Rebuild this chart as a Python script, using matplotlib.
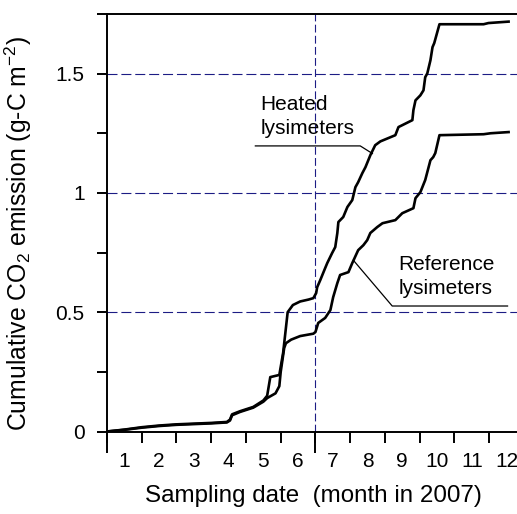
import numpy as np
import matplotlib
matplotlib.use("Agg")
import matplotlib.pyplot as plt

plt.rcParams['font.family'] = ['Liberation Sans', 'DejaVu Sans']
plt.rcParams['mathtext.default'] = 'regular'

# cumulative CO2 emission, x in months since 1 Jan 2007
heat_m = [0, 0.5, 1.0, 1.5, 2.0, 2.5, 3.0, 3.45, 3.54, 3.60,
          3.83, 4.21, 4.50, 4.61, 4.70, 4.96, 5.07, 5.20, 5.35, 5.56,
          5.80, 5.94, 6.02, 6.05, 6.14, 6.28, 6.34, 6.48, 6.57, 6.63,
          6.66, 6.80, 6.92, 7.06, 7.15, 7.23, 7.35, 7.44, 7.58, 7.72,
          7.87, 8.30, 8.39, 8.79, 8.82, 8.88, 9.02, 9.11, 9.16, 9.22,
          9.31, 9.37, 9.42, 9.57, 10.84, 10.98, 11.56]
heat_v = [0, 0.008, 0.018, 0.025, 0.030, 0.033, 0.036, 0.040, 0.050, 0.072,
          0.085, 0.103, 0.130, 0.150, 0.228, 0.237, 0.330, 0.500, 0.530, 0.545,
          0.553, 0.559, 0.580, 0.605, 0.635, 0.685, 0.706, 0.748, 0.773, 0.832,
          0.878, 0.899, 0.941, 0.970, 1.024, 1.045, 1.083, 1.108, 1.158, 1.200,
          1.216, 1.242, 1.276, 1.305, 1.347, 1.388, 1.409, 1.430, 1.485, 1.501,
          1.556, 1.611, 1.628, 1.707, 1.707, 1.712, 1.718]

ref_m = [0, 0.5, 1.0, 1.5, 2.0, 2.5, 3.0, 3.45, 3.54, 3.60,
         3.83, 4.21, 4.50, 4.61, 4.85, 4.96, 5.00, 5.10, 5.15, 5.30,
         5.56, 5.94, 6.00, 6.08, 6.28, 6.43, 6.51, 6.63, 6.71, 6.95,
         7.06, 7.23, 7.38, 7.49, 7.58, 7.78, 7.93, 8.30, 8.50, 8.82,
         8.88, 9.02, 9.16, 9.31, 9.39, 9.45, 9.57, 10.84, 11.04, 11.56]
ref_v = [0, 0.007, 0.016, 0.023, 0.028, 0.031, 0.034, 0.038, 0.046, 0.068,
         0.082, 0.100, 0.125, 0.140, 0.160, 0.190, 0.250, 0.350, 0.370, 0.385,
         0.400, 0.410, 0.417, 0.455, 0.476, 0.509, 0.563, 0.622, 0.656, 0.668,
         0.706, 0.760, 0.781, 0.802, 0.832, 0.857, 0.873, 0.886, 0.915, 0.936,
         0.978, 1.003, 1.054, 1.137, 1.150, 1.167, 1.242, 1.246, 1.250, 1.255]

month_labels = [str(k) for k in range(1, 13)]
grid_levels = [0.5, 1.0, 1.5]
heating_start = 6  # 1 July

# leader lines for the two labels
heat_lead_x = [4.27, 7.29, 7.64]
heat_lead_y = [1.197, 1.197, 1.165]
ref_lead_x = [7.09, 8.21, 11.53]
ref_lead_y = [0.718, 0.526, 0.526]

fig = plt.figure(figsize=(5.17, 5.14), dpi=100)
ax = fig.add_axes([0.207, 0.1605, 0.8063, 0.8123])

navy = '#1c1c84'
for lv in grid_levels:
    ax.axhline(lv, color=navy, lw=0.8, ls=(0, (9, 3.5)), zorder=1)
ax.axvline(heating_start, color=navy, lw=0.8, ls=(0, (7, 3)), zorder=1)

ax.plot(heat_m, heat_v, color='black', lw=1.9, zorder=3)
ax.plot(ref_m, ref_v, color='black', lw=1.9, zorder=3)

ax.plot(heat_lead_x, heat_lead_y, color='black', lw=0.9, zorder=2)
ax.plot(ref_lead_x, ref_lead_y, color='black', lw=0.9, zorder=2)
ax.text(4.41, 1.41, 'Heated\nlysimeters', fontsize=15, va='top',
        ha='left', linespacing=1.3)
ax.text(8.39, 0.739, 'Reference\nlysimeters', fontsize=15, va='top',
        ha='left', linespacing=1.3)

ax.set_xlim(0, 12)
ax.set_ylim(0, 1.75)

for s in ['left', 'bottom', 'top']:
    ax.spines[s].set_linewidth(1.4)
ax.spines['right'].set_visible(False)

# y ticks
ax.set_yticks(np.arange(0, 1.76, 0.25))
ax.set_yticklabels(['0', '', '0.5', '', '1', '', '1.5', ''])
ax.tick_params(axis='y', direction='out', length=7.2, width=1.4,
               labelsize=15, pad=9)

# x: labels mid-month, ticks at month boundaries
ax.set_xticks([k - 0.5 for k in range(1, 13)])
ax.set_xticklabels(month_labels)
ax.set_xticks(range(0, 13), minor=True)
ax.tick_params(axis='x', which='major', length=0, labelsize=15, pad=15)
ax.tick_params(axis='x', which='minor', direction='out', length=8, width=1.4)

sec = ax.secondary_xaxis('bottom')
sec.set_xticks([0, heating_start])
sec.set_xticklabels(['', ''])
sec.tick_params(length=15, width=1.4)
sec.spines['bottom'].set_visible(False)

ax.set_ylabel('Cumulative CO$_2$ emission (g-C m$^{-2}$)', fontsize=17.8)
ax.yaxis.set_label_coords(-0.175, 0.473)
ax.set_xlabel('Sampling date  (month in 2007)', fontsize=17.4)
ax.xaxis.set_label_coords(0.494, -0.128)

fig.savefig('out.png', dpi=100)
